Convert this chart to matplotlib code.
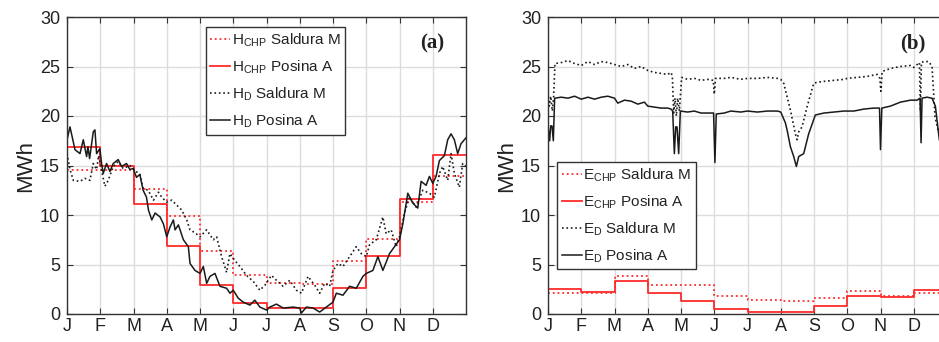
import matplotlib
matplotlib.use("Agg")
import matplotlib.pyplot as plt
import numpy as np

plt.rcParams['font.family'] = ['Liberation Sans', 'DejaVu Sans']
plt.rcParams['mathtext.fontset'] = 'custom'
plt.rcParams['mathtext.rm'] = 'Liberation Sans'

# ---------------- data ----------------
month_labels = ['J', 'F', 'M', 'A', 'M', 'J', 'J', 'A', 'S', 'O', 'N', 'D']

# Panel (a): heat, monthly CHP
hchp_saldura = [14.5, 14.5, 12.6, 9.9, 6.4, 3.9, 3.1, 3.0, 5.4, 7.6, 11.3, 13.9]
hchp_posina = [16.9, 14.9, 11.1, 6.9, 2.9, 1.1, 0.6, 0.6, 2.6, 5.9, 11.6, 16.1]

# Panel (a): heat demand (time in months)
hd_posina_x = [0.0, 0.09, 0.24, 0.39, 0.49, 0.59, 0.63, 0.68, 0.79, 0.84, 0.89, 0.99,
               1.04, 1.09, 1.19, 1.29, 1.39, 1.54, 1.64, 1.79, 1.89, 1.99, 2.09, 2.19,
               2.29, 2.39, 2.45, 2.55, 2.65, 2.8, 2.9, 3.0, 3.1, 3.2, 3.25, 3.35, 3.5,
               3.65, 3.7, 3.85, 4.0, 4.1, 4.2, 4.3, 4.45, 4.6, 4.8, 4.9, 5.0, 5.15, 5.3,
               5.5, 5.65, 5.8, 6.0, 6.1, 6.3, 6.5, 6.8, 7.0, 7.05, 7.2, 7.4, 7.6, 7.8,
               8.0, 8.1, 8.3, 8.5, 8.7, 8.9, 9.0, 9.2, 9.35, 9.5, 9.7, 9.85, 10.0, 10.1,
               10.25, 10.4, 10.55, 10.65, 10.8, 10.9, 11.0, 11.1, 11.2, 11.35, 11.45,
               11.55, 11.65, 11.75, 11.85, 11.95, 12.0]
hd_posina_y = [17.6, 18.9, 16.6, 16.2, 17.6, 15.9, 16.9, 15.7, 18.4, 18.6, 16.2, 16.7,
               15.2, 14.2, 15.2, 14.4, 15.2, 15.6, 14.9, 15.2, 14.6, 14.7, 13.8, 14.1,
               12.5, 11.8, 10.5, 9.5, 10.2, 9.8, 9.1, 7.8, 8.8, 9.5, 8.5, 9.0, 7.5,
               6.8, 5.1, 4.4, 4.1, 4.8, 3.1, 3.8, 4.1, 2.8, 2.6, 2.1, 2.4, 1.6, 1.2,
               0.9, 1.4, 0.7, 0.4, 0.7, 1.0, 0.6, 0.7, 0.6, 0.1, 0.7, 0.6, 0.2, 0.7,
               1.2, 2.1, 1.9, 2.8, 2.6, 3.8, 4.1, 4.4, 5.8, 4.4, 6.1, 6.8, 7.5, 9.1,
               12.2, 11.2, 10.7, 13.4, 13.0, 13.9, 13.2, 13.9, 15.5, 16.0, 17.6,
               18.2, 17.6, 16.2, 17.2, 17.6, 17.8]

hd_saldura_x = [0.0, 0.09, 0.19, 0.39, 0.54, 0.69, 0.79, 0.89, 0.95, 1.14, 1.24, 1.39,
                1.54, 1.69, 1.89, 2.04, 2.19, 2.29, 2.44, 2.6, 2.75, 2.85, 3.0, 3.15,
                3.3, 3.45, 3.6, 3.7, 3.85, 4.0, 4.2, 4.4, 4.5, 4.65, 4.8, 4.9, 5.05,
                5.2, 5.4, 5.6, 5.8, 5.95, 6.15, 6.3, 6.5, 6.7, 6.9, 7.05, 7.25, 7.45,
                7.6, 7.75, 7.9, 8.0, 8.15, 8.3, 8.5, 8.7, 8.85, 9.0, 9.1, 9.3, 9.5, 9.6,
                9.75, 9.9, 10.0, 10.15, 10.3, 10.5, 10.7, 10.9, 11.05, 11.2, 11.3,
                11.45, 11.55, 11.65, 11.8, 11.9, 12.0]
hd_saldura_y = [16.2, 14.6, 13.5, 13.4, 13.7, 13.5, 15.2, 14.6, 16.0, 12.9, 13.5, 14.9,
                15.4, 14.7, 15.0, 14.5, 14.1, 12.7, 12.5, 11.5, 12.3, 11.8, 11.3, 11.5,
                11.0, 10.5, 9.5, 8.5, 8.2, 7.8, 8.5, 7.5, 7.8, 5.8, 4.2, 6.1, 5.4,
                4.8, 3.9, 3.3, 2.4, 2.9, 3.9, 3.4, 2.8, 3.4, 2.4, 2.1, 3.8, 2.9,
                2.1, 3.1, 2.8, 4.4, 5.1, 4.8, 5.8, 6.8, 6.1, 5.8, 7.0, 7.5, 9.8, 8.1,
                8.5, 6.8, 7.8, 10.2, 11.8, 10.8, 12.5, 12.2, 11.8, 14.2, 14.9,
                13.5, 16.2, 14.2, 12.8, 15.2, 14.9]

# Panel (b): electricity, monthly CHP
echp_saldura = [2.1, 2.1, 3.8, 2.9, 2.9, 1.8, 1.4, 1.3, 1.6, 2.3, 1.8, 2.1]
echp_posina = [2.5, 2.2, 3.3, 2.1, 1.3, 0.5, 0.2, 0.2, 0.8, 1.8, 1.7, 2.4]

# Panel (b): electricity demand (time in months)
ed_saldura_x = [0.0, 0.04, 0.08, 0.13, 0.17, 0.21, 0.4, 0.6, 0.8, 1.0, 1.2, 1.4, 1.6,
                1.8, 2.0, 2.2, 2.4, 2.6, 2.8, 3.0, 3.2, 3.4, 3.6, 3.7, 3.74, 3.78,
                3.82, 3.86, 3.9, 3.95, 4.02, 4.2, 4.4, 4.6, 4.8, 4.97, 5.0, 5.04, 5.3,
                5.5, 5.8, 6.0, 6.3, 6.6, 6.9, 7.0, 7.09, 7.29, 7.44, 7.49, 7.54, 7.64,
                7.79, 7.99, 8.09, 8.3, 8.6, 8.9, 9.0, 9.3, 9.6, 9.9, 9.98, 10.01,
                10.05, 10.3, 10.6, 10.9, 11.0, 11.17, 11.2, 11.23, 11.3, 11.45,
                11.55, 11.64, 11.77]
ed_saldura_y = [22.0, 21.0, 22.0, 20.5, 22.0, 25.3, 25.4, 25.6, 25.3, 25.1, 25.5, 25.2,
                25.5, 25.4, 25.2, 25.0, 25.2, 24.8, 25.0, 24.6, 24.4, 24.3, 24.2, 24.4,
                24.0, 20.3, 21.8, 20.0, 21.8, 20.5, 23.9, 23.7, 23.8, 23.6, 23.7, 23.6,
                22.2, 23.8, 23.8, 23.9, 23.7, 23.8, 23.8, 23.9, 23.8, 23.7, 23.3, 20.6,
                18.2, 17.6, 18.4, 18.9, 20.9, 23.3, 23.4, 23.5, 23.6, 23.7, 23.8, 23.9,
                24.0, 24.2, 23.8, 22.5, 24.5, 24.8, 25.0, 25.1, 24.9, 25.4, 20.5,
                25.4, 25.5, 25.5, 25.0, 19.9, 18.0]

ed_posina_x = [0.0, 0.05, 0.08, 0.12, 0.16, 0.2, 0.4, 0.6, 0.8, 1.0, 1.2, 1.4, 1.6,
               1.8, 2.0, 2.1, 2.3, 2.5, 2.7, 2.9, 3.0, 3.2, 3.4, 3.6, 3.7, 3.75, 3.8,
               3.84, 3.88, 3.93, 3.98, 4.2, 4.4, 4.6, 4.8, 4.98, 5.02, 5.06, 5.3, 5.5,
               5.8, 6.0, 6.3, 6.6, 6.9, 7.0, 7.14, 7.19, 7.29, 7.39, 7.47, 7.54, 7.69,
               7.84, 8.04, 8.3, 8.6, 8.9, 9.2, 9.5, 9.8, 9.97, 10.0, 10.04, 10.3,
               10.6, 10.9, 11.1, 11.19, 11.22, 11.25, 11.4, 11.55, 11.65, 11.77]
ed_posina_y = [19.0, 17.5, 19.0, 19.0, 17.5, 21.8, 21.9, 21.8, 22.0, 21.7, 21.9, 21.7,
               21.9, 22.0, 21.8, 21.3, 21.6, 21.5, 21.2, 21.4, 21.0, 20.9, 20.8, 20.8,
               20.7, 20.5, 16.2, 18.9, 18.9, 16.2, 20.5, 20.4, 20.5, 20.3, 20.3, 20.3,
               15.3, 20.2, 20.3, 20.5, 20.4, 20.5, 20.4, 20.5, 20.5, 20.4, 19.3, 18.6,
               16.9, 15.9, 14.9, 15.9, 16.2, 18.2, 20.1, 20.3, 20.4, 20.5, 20.5, 20.7,
               20.8, 20.8, 16.6, 20.8, 21.0, 21.4, 21.6, 21.6, 21.8, 17.3, 21.8,
               21.9, 21.8, 21.0, 17.6]

# ---------------- figure ----------------
W, H = 939, 342
fig = plt.figure(figsize=(W / 100, H / 100), dpi=100)

ax_w = 399 / W
ax_h = 297 / H
ax_b = (H - 314) / H
axA = fig.add_axes([67 / W, ax_b, ax_w, ax_h])
axB = fig.add_axes([548 / W, ax_b, ax_w, ax_h])

red = '#ff2a2a'
blk = '#1a1a1a'
months = np.arange(13)


def steps(vals):
    return list(vals) + [vals[-1]]


def style(ax, tag):
    ax.set_xlim(0, 12)
    ax.set_ylim(0, 30)
    ax.set_xticks(range(12))
    ax.set_xticklabels(month_labels)
    ax.set_yticks(range(0, 31, 5))
    ax.grid(True, color='#dcdcdc', linewidth=1.0)
    ax.set_axisbelow(True)
    ax.tick_params(direction='in', top=True, right=True, labelsize=13,
                   colors='#333333', labelcolor='#222222', length=4, width=0.8)
    ax.tick_params(axis='x', pad=3)
    ax.tick_params(axis='y', pad=5)
    for s in ax.spines.values():
        s.set_color('#333333')
        s.set_linewidth(1.0)
    ax.set_ylabel('MWh', fontsize=16, color='#222222', labelpad=3)
    ax.text(0.915, 0.912, tag, transform=ax.transAxes, ha='center', va='center',
            fontsize=15, fontweight='bold', family='Liberation Serif', color='#222222')


# Panel (a)
axA.step(months, steps(hchp_saldura), where='post', color=red, linestyle=':', linewidth=1.3,
         label=r'H$_\mathregular{CHP}$ Saldura M')
axA.step(months, steps(hchp_posina), where='post', color=red, linestyle='-', linewidth=1.3,
         label=r'H$_\mathregular{CHP}$ Posina A')
axA.plot(hd_saldura_x, hd_saldura_y, color=blk, linestyle=':', linewidth=1.2,
         label=r'H$_\mathregular{D}$ Saldura M')
axA.plot(hd_posina_x, hd_posina_y, color=blk, linestyle='-', linewidth=1.1,
         label=r'H$_\mathregular{D}$ Posina A')
style(axA, '(a)')

# Panel (b)
axB.step(months, steps(echp_saldura), where='post', color=red, linestyle=':', linewidth=1.3,
         label=r'E$_\mathregular{CHP}$ Saldura M')
axB.step(months, steps(echp_posina), where='post', color=red, linestyle='-', linewidth=1.3,
         label=r'E$_\mathregular{CHP}$ Posina A')
axB.plot(ed_saldura_x, ed_saldura_y, color=blk, linestyle=':', linewidth=1.2,
         label=r'E$_\mathregular{D}$ Saldura M')
axB.plot(ed_posina_x, ed_posina_y, color=blk, linestyle='-', linewidth=1.1,
         label=r'E$_\mathregular{D}$ Posina A')
style(axB, '(b)')

leg_kw = dict(loc='upper left', borderaxespad=0, fontsize=11, handlelength=1.3,
              handletextpad=0.1, labelspacing=0.6, borderpad=0.3, fancybox=False,
              framealpha=1, edgecolor='#333333')
legA = axA.legend(bbox_to_anchor=(0.348, 0.966), **leg_kw)
legB = axB.legend(bbox_to_anchor=(0.023, 0.512), **leg_kw)
for lg in (legA, legB):
    lg.get_frame().set_linewidth(1.0)
    for t in lg.get_texts():
        t.set_color('#222222')

fig.savefig('out.png', dpi=100)
